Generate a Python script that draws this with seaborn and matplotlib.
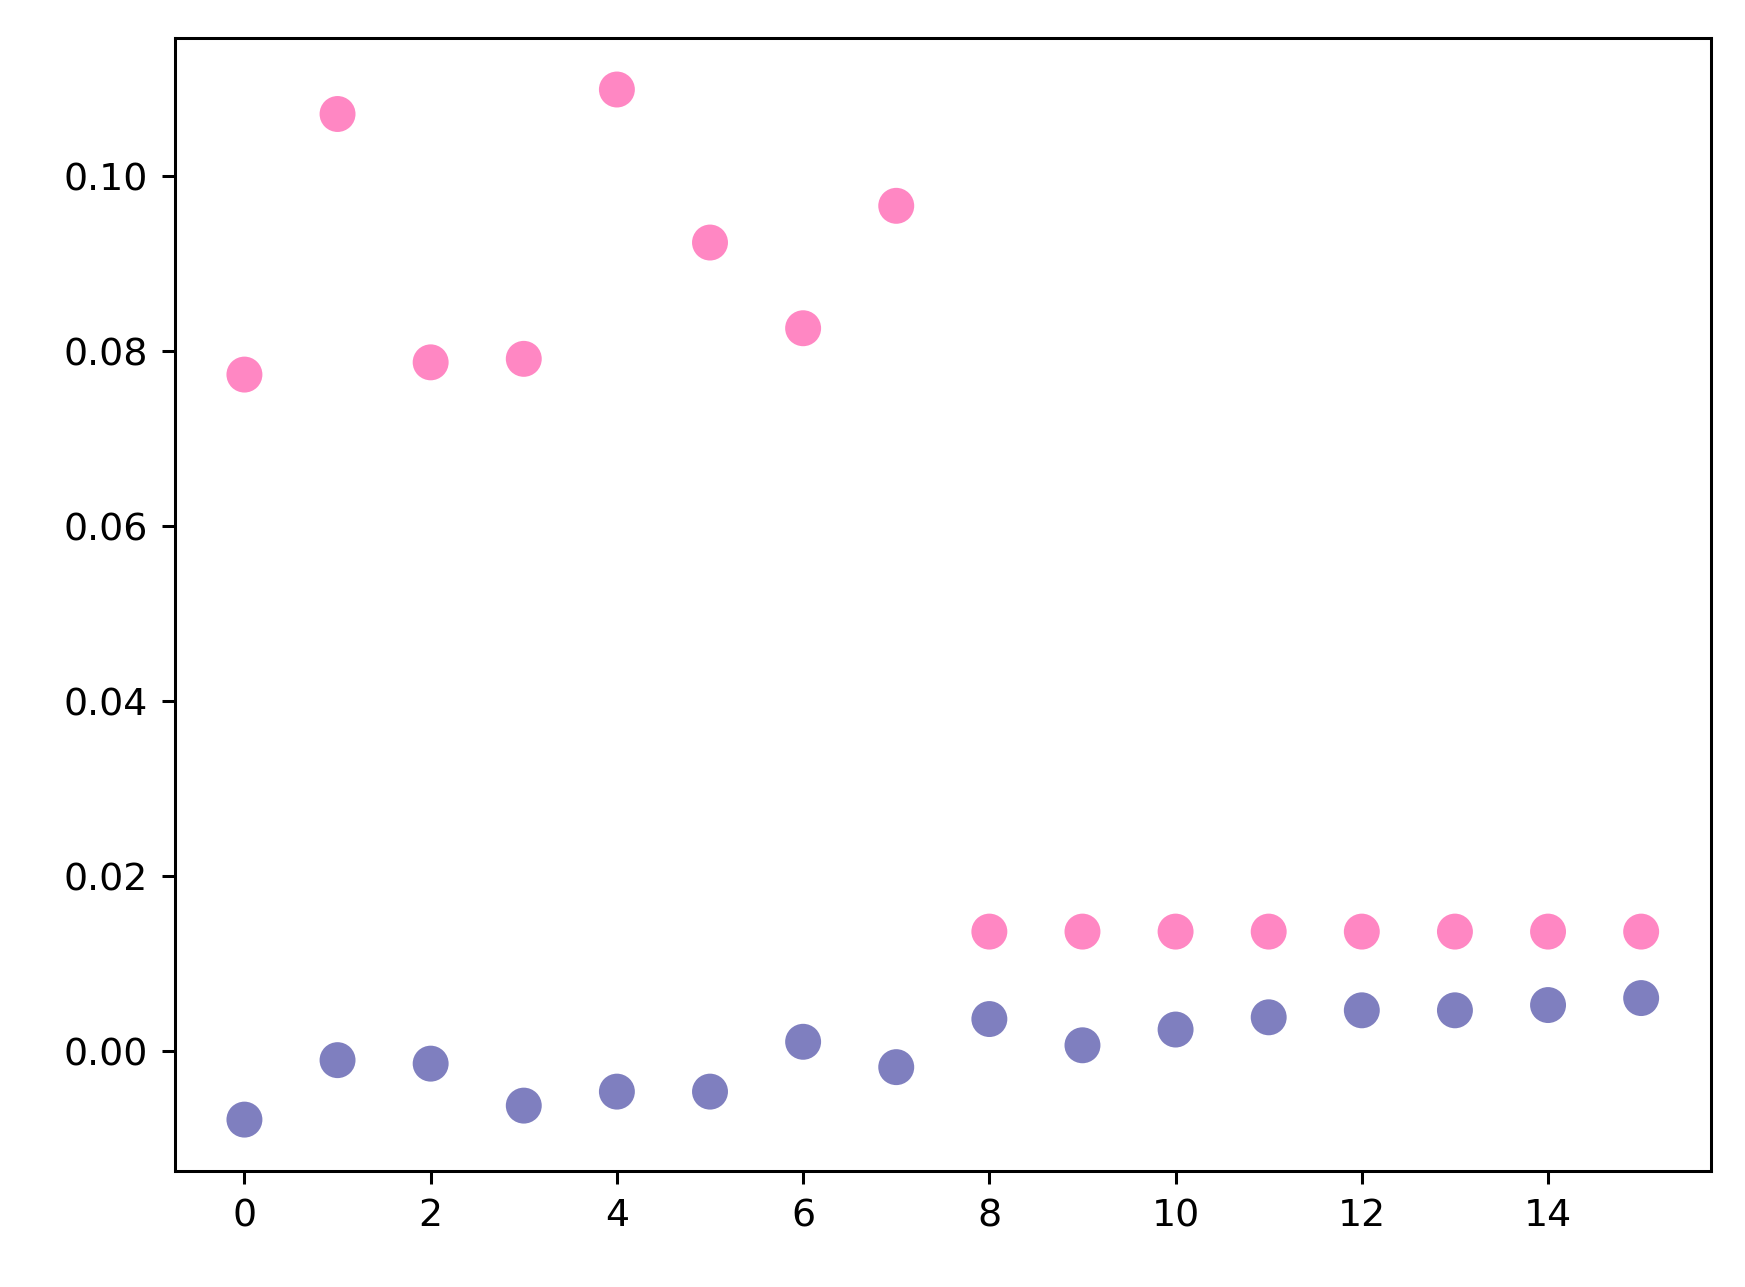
import matplotlib
matplotlib.use("Agg")
import matplotlib.pyplot as plt
import seaborn as sns
import numpy as np

x = list(range(16))
pink = [0.0773, 0.1071, 0.0787, 0.0791, 0.1099, 0.0924, 0.0826, 0.0966,
        0.0136, 0.0136, 0.0136, 0.0136, 0.0136, 0.0136, 0.0136, 0.0136]
blue = [-0.0079, -0.0011, -0.0015, -0.0063, -0.0047, -0.0047, 0.0010, -0.0019,
        0.0036, 0.0006, 0.0024, 0.0038, 0.0046, 0.0046, 0.0052, 0.0060]

plt.style.use("default")
fig, ax = plt.subplots(figsize=(6.4, 4.72), dpi=272.8)
sns.scatterplot(x=x, y=pink, ax=ax, color="hotpink", alpha=0.8, s=90, edgecolor="none")
sns.scatterplot(x=x, y=blue, ax=ax, color="navy", alpha=0.5, s=90, edgecolor="none")
ax.set_xticks([0, 2, 4, 6, 8, 10, 12, 14])
fig.subplots_adjust(left=0.1, right=0.98, top=0.97, bottom=0.09)
fig.savefig("out.png")
